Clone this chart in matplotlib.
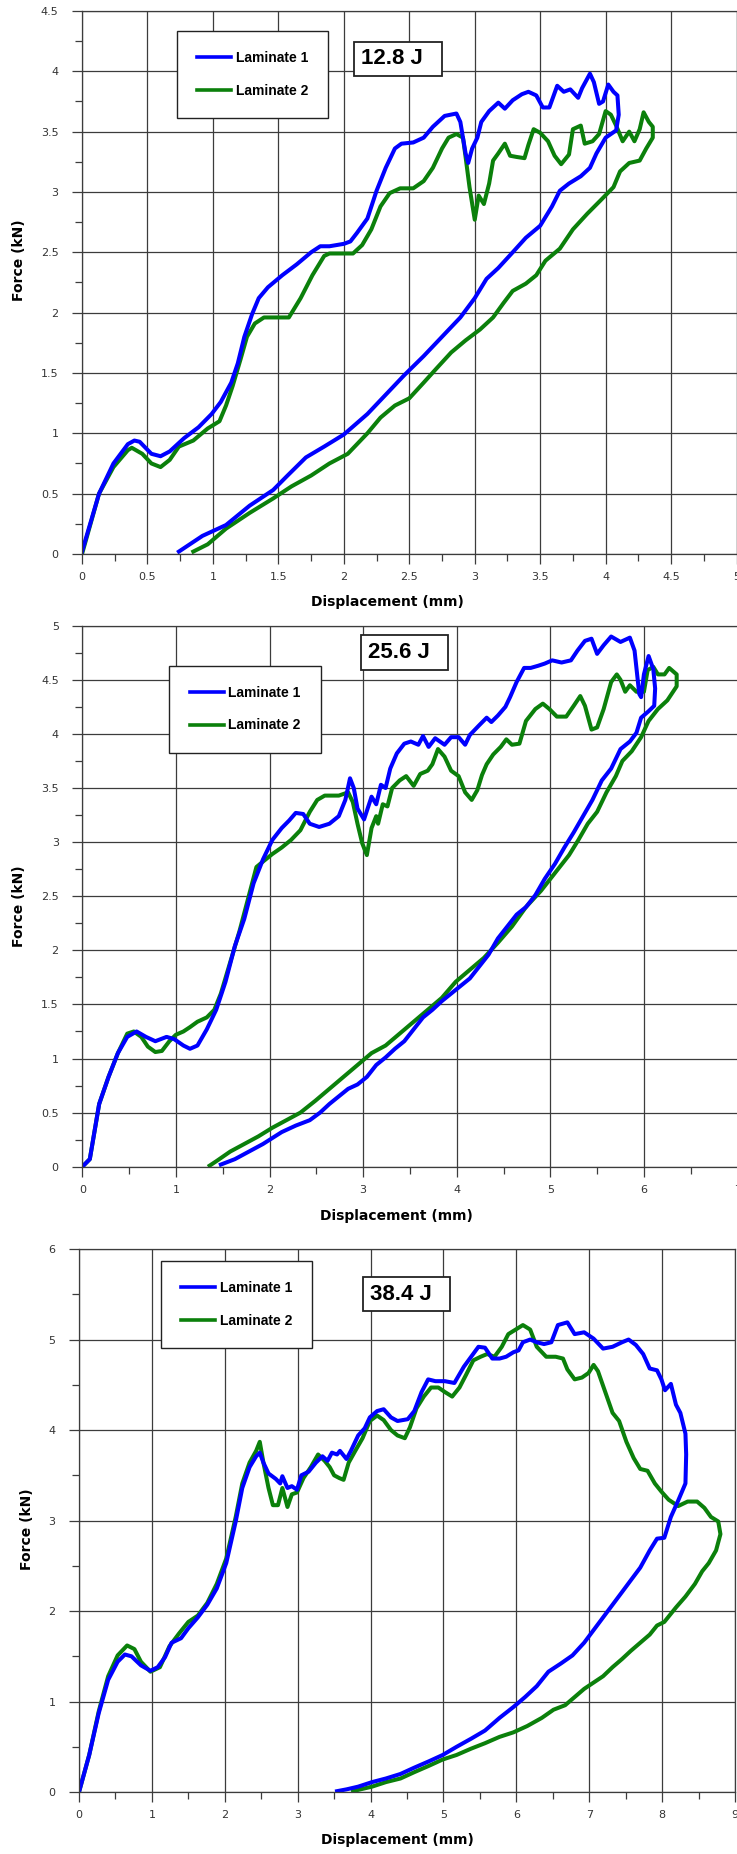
import matplotlib
matplotlib.use("Agg")
import matplotlib.pyplot as plt
from matplotlib.ticker import MultipleLocator, FuncFormatter

# ---- data ----
# 12.8 J
e12_lam1_x = [0.0, 0.13, 0.24, 0.35, 0.40, 0.44, 0.53, 0.60, 0.67, 0.78, 0.89, 0.99, 1.06, 1.14, 1.19, 1.24,
              1.30, 1.35, 1.42, 1.53, 1.64, 1.75, 1.82, 1.89, 2.00, 2.05, 2.10, 2.18, 2.25, 2.32, 2.39, 2.44,
              2.53, 2.61, 2.68, 2.77, 2.86, 2.89, 2.93, 2.95, 2.98, 3.02, 3.05, 3.11, 3.18, 3.23, 3.29, 3.36,
              3.41, 3.47, 3.52, 3.57, 3.63, 3.68, 3.73, 3.79, 3.82, 3.88, 3.91, 3.95, 3.98, 4.02, 4.06, 4.09,
              4.10, 4.08, 4.00, 3.93, 3.88, 3.81, 3.72, 3.65, 3.59, 3.50, 3.39, 3.29, 3.18, 3.09, 3.00, 2.89,
              2.75, 2.61, 2.46, 2.32, 2.18, 2.00, 1.85, 1.71, 1.57, 1.46, 1.28, 1.10, 0.92, 0.74]
e12_lam1_y = [0.02, 0.50, 0.75, 0.91, 0.94, 0.93, 0.83, 0.81, 0.85, 0.96, 1.05, 1.16, 1.26, 1.42, 1.58, 1.80,
              1.99, 2.12, 2.21, 2.31, 2.40, 2.50, 2.55, 2.55, 2.57, 2.59, 2.66, 2.78, 3.01, 3.20, 3.36, 3.40,
              3.41, 3.45, 3.54, 3.63, 3.65, 3.58, 3.32, 3.24, 3.36, 3.45, 3.58, 3.67, 3.74, 3.69, 3.76, 3.81,
              3.83, 3.80, 3.70, 3.70, 3.88, 3.83, 3.85, 3.78, 3.86, 3.98, 3.91, 3.73, 3.75, 3.89, 3.83, 3.80,
              3.64, 3.51, 3.45, 3.32, 3.20, 3.13, 3.07, 3.01, 2.88, 2.72, 2.62, 2.50, 2.37, 2.28, 2.12, 1.96,
              1.80, 1.64, 1.48, 1.32, 1.16, 0.99, 0.89, 0.80, 0.65, 0.53, 0.40, 0.24, 0.15, 0.02]
e12_lam2_x = [0.0, 0.13, 0.24, 0.35, 0.38, 0.46, 0.53, 0.60, 0.67, 0.74, 0.85, 0.96, 1.05, 1.10, 1.15, 1.21,
              1.26, 1.32, 1.39, 1.58, 1.67, 1.76, 1.85, 1.89, 2.07, 2.14, 2.21, 2.28, 2.35, 2.43, 2.53, 2.61,
              2.68, 2.75, 2.80, 2.86, 2.91, 2.93, 2.96, 3.00, 3.03, 3.07, 3.11, 3.14, 3.18, 3.23, 3.27, 3.32,
              3.38, 3.41, 3.45, 3.50, 3.56, 3.61, 3.66, 3.72, 3.75, 3.81, 3.84, 3.90, 3.95, 4.00, 4.04, 4.08,
              4.13, 4.18, 4.22, 4.26, 4.29, 4.33, 4.36, 4.36, 4.31, 4.26, 4.18, 4.11, 4.06, 3.97, 3.86, 3.75,
              3.65, 3.54, 3.47, 3.39, 3.29, 3.22, 3.14, 3.04, 2.93, 2.82, 2.71, 2.61, 2.50, 2.39, 2.28, 2.18,
              2.03, 1.89, 1.75, 1.60, 1.46, 1.28, 1.10, 0.96, 0.85]
e12_lam2_y = [0.0, 0.50, 0.72, 0.86, 0.88, 0.83, 0.75, 0.72, 0.78, 0.89, 0.94, 1.04, 1.10, 1.23, 1.39, 1.61,
              1.80, 1.91, 1.96, 1.96, 2.12, 2.31, 2.47, 2.49, 2.49, 2.56, 2.69, 2.88, 2.99, 3.03, 3.03, 3.09,
              3.20, 3.36, 3.45, 3.48, 3.45, 3.29, 3.04, 2.77, 2.97, 2.90, 3.07, 3.26, 3.32, 3.40, 3.30, 3.29,
              3.28, 3.39, 3.52, 3.49, 3.42, 3.30, 3.23, 3.31, 3.52, 3.55, 3.40, 3.42, 3.48, 3.67, 3.64, 3.55,
              3.42, 3.50, 3.42, 3.52, 3.66, 3.58, 3.54, 3.45, 3.36, 3.26, 3.24, 3.17, 3.04, 2.94, 2.82, 2.69,
              2.53, 2.43, 2.31, 2.24, 2.18, 2.08, 1.96, 1.86, 1.77, 1.67, 1.54, 1.42, 1.29, 1.23, 1.13, 1.00,
              0.83, 0.75, 0.65, 0.56, 0.46, 0.34, 0.21, 0.08, 0.02]

# 25.6 J
e25_lam1_x = [0.0, 0.08, 0.18, 0.28, 0.38, 0.48, 0.58, 0.68, 0.78, 0.90, 0.98, 1.08, 1.15, 1.23, 1.33, 1.43,
              1.53, 1.63, 1.73, 1.83, 1.93, 2.03, 2.13, 2.21, 2.28, 2.36, 2.43, 2.53, 2.64, 2.74, 2.81, 2.86,
              2.90, 2.94, 3.01, 3.09, 3.14, 3.19, 3.24, 3.29, 3.36, 3.44, 3.51, 3.59, 3.64, 3.70, 3.77, 3.87,
              3.94, 4.02, 4.09, 4.14, 4.24, 4.32, 4.37, 4.44, 4.52, 4.57, 4.64, 4.72, 4.79, 4.87, 4.94, 5.02,
              5.12, 5.22, 5.29, 5.37, 5.44, 5.50, 5.57, 5.65, 5.75, 5.85, 5.90, 5.95, 5.97, 6.00, 6.05, 6.10,
              6.12, 6.11, 6.05, 5.97, 5.92, 5.85, 5.75, 5.65, 5.55, 5.45, 5.35, 5.25, 5.15, 5.05, 4.94, 4.84,
              4.74, 4.64, 4.54, 4.44, 4.34, 4.24, 4.14, 4.04, 3.94, 3.84, 3.74, 3.64, 3.54, 3.44, 3.34, 3.24,
              3.14, 3.04, 2.94, 2.84, 2.74, 2.64, 2.54, 2.43, 2.28, 2.13, 1.93, 1.78, 1.63, 1.48]
e25_lam1_y = [0.0, 0.07, 0.58, 0.83, 1.05, 1.20, 1.25, 1.20, 1.16, 1.20, 1.18, 1.12, 1.09, 1.12, 1.27, 1.45,
              1.71, 2.04, 2.29, 2.62, 2.84, 3.02, 3.13, 3.20, 3.27, 3.26, 3.17, 3.14, 3.17, 3.24, 3.39, 3.59,
              3.50, 3.31, 3.21, 3.42, 3.35, 3.53, 3.50, 3.68, 3.82, 3.91, 3.93, 3.90, 3.98, 3.88, 3.96, 3.90,
              3.97, 3.97, 3.90, 3.99, 4.08, 4.15, 4.11, 4.17, 4.25, 4.34, 4.48, 4.61, 4.61, 4.63, 4.65, 4.68,
              4.66, 4.68, 4.77, 4.86, 4.88, 4.74, 4.82, 4.90, 4.85, 4.89, 4.77, 4.37, 4.34, 4.55, 4.72, 4.60,
              4.42, 4.26, 4.21, 4.15, 4.01, 3.93, 3.86, 3.68, 3.57, 3.39, 3.24, 3.09, 2.95, 2.80, 2.66, 2.51,
              2.40, 2.33, 2.22, 2.11, 1.96, 1.85, 1.74, 1.67, 1.60, 1.53, 1.45, 1.38, 1.27, 1.16, 1.09, 1.01,
              0.94, 0.83, 0.76, 0.72, 0.65, 0.58, 0.50, 0.43, 0.38, 0.32, 0.21, 0.14, 0.07, 0.02]
e25_lam2_x = [0.0, 0.08, 0.18, 0.28, 0.38, 0.48, 0.55, 0.63, 0.70, 0.78, 0.85, 0.93, 1.00, 1.08, 1.15, 1.23,
              1.33, 1.41, 1.48, 1.58, 1.68, 1.78, 1.86, 1.93, 2.03, 2.13, 2.23, 2.33, 2.43, 2.51, 2.59, 2.74,
              2.84, 2.89, 2.94, 2.99, 3.04, 3.09, 3.14, 3.16, 3.21, 3.26, 3.31, 3.39, 3.46, 3.54, 3.61, 3.69,
              3.74, 3.80, 3.87, 3.94, 4.02, 4.09, 4.16, 4.22, 4.27, 4.32, 4.39, 4.47, 4.53, 4.59, 4.67, 4.74,
              4.84, 4.92, 4.99, 5.07, 5.17, 5.25, 5.32, 5.37, 5.44, 5.50, 5.57, 5.65, 5.71, 5.75, 5.80, 5.85,
              5.92, 6.00, 6.04, 6.10, 6.15, 6.22, 6.27, 6.35, 6.35, 6.25, 6.15, 6.05, 5.97, 5.87, 5.77, 5.70,
              5.60, 5.50, 5.40, 5.30, 5.20, 5.10, 5.00, 4.90, 4.74, 4.59, 4.44, 4.29, 4.14, 3.99, 3.84, 3.69,
              3.54, 3.39, 3.24, 3.09, 2.94, 2.79, 2.64, 2.49, 2.33, 2.18, 2.03, 1.88, 1.73, 1.58, 1.43, 1.36]
e25_lam2_y = [0.0, 0.07, 0.58, 0.83, 1.05, 1.23, 1.25, 1.20, 1.11, 1.06, 1.07, 1.16, 1.22, 1.25, 1.29, 1.34,
              1.38, 1.45, 1.60, 1.89, 2.18, 2.51, 2.77, 2.82, 2.89, 2.95, 3.02, 3.11, 3.28, 3.39, 3.43, 3.43,
              3.46, 3.37, 3.17, 2.99, 2.88, 3.13, 3.24, 3.17, 3.35, 3.33, 3.50, 3.57, 3.61, 3.52, 3.63, 3.66,
              3.72, 3.86, 3.79, 3.66, 3.61, 3.46, 3.39, 3.48, 3.62, 3.72, 3.81, 3.88, 3.95, 3.90, 3.91, 4.12,
              4.23, 4.28, 4.23, 4.16, 4.16, 4.26, 4.35, 4.26, 4.04, 4.06, 4.23, 4.48, 4.55, 4.50, 4.39, 4.45,
              4.39, 4.39, 4.59, 4.62, 4.55, 4.55, 4.61, 4.55, 4.44, 4.31, 4.23, 4.12, 3.97, 3.84, 3.75, 3.61,
              3.46, 3.28, 3.17, 3.02, 2.88, 2.77, 2.66, 2.55, 2.40, 2.22, 2.07, 1.93, 1.82, 1.71, 1.56, 1.45,
              1.34, 1.23, 1.12, 1.05, 0.94, 0.83, 0.72, 0.61, 0.50, 0.43, 0.36, 0.28, 0.21, 0.14, 0.05, 0.01]

# 38.4 J
e38_lam1_x = [0.0, 0.14, 0.27, 0.40, 0.53, 0.63, 0.72, 0.85, 0.98, 1.08, 1.18, 1.27, 1.40, 1.50, 1.63, 1.76,
              1.89, 2.02, 2.15, 2.24, 2.34, 2.43, 2.48, 2.53, 2.60, 2.70, 2.76, 2.79, 2.86, 2.92, 2.99, 3.05,
              3.15, 3.25, 3.34, 3.41, 3.47, 3.54, 3.58, 3.67, 3.73, 3.83, 3.92, 3.99, 4.09, 4.18, 4.28, 4.37,
              4.51, 4.60, 4.70, 4.79, 4.89, 5.02, 5.15, 5.28, 5.38, 5.48, 5.57, 5.67, 5.77, 5.86, 5.96, 6.03,
              6.09, 6.19, 6.28, 6.38, 6.48, 6.57, 6.70, 6.80, 6.93, 7.06, 7.19, 7.32, 7.45, 7.54, 7.64, 7.74,
              7.83, 7.93, 7.99, 8.04, 8.12, 8.19, 8.25, 8.32, 8.33, 8.32, 8.22, 8.12, 8.03, 7.93, 7.83, 7.70,
              7.57, 7.45, 7.32, 7.19, 7.06, 6.93, 6.77, 6.61, 6.44, 6.28, 6.12, 5.96, 5.77, 5.57, 5.38, 5.18,
              4.99, 4.80, 4.60, 4.41, 4.21, 4.02, 3.83, 3.67, 3.54]
e38_lam1_y = [0.0, 0.41, 0.87, 1.24, 1.44, 1.52, 1.50, 1.40, 1.34, 1.38, 1.49, 1.65, 1.70, 1.81, 1.93, 2.07,
              2.25, 2.53, 2.99, 3.36, 3.59, 3.71, 3.75, 3.64, 3.52, 3.46, 3.41, 3.49, 3.36, 3.38, 3.34, 3.50,
              3.54, 3.64, 3.71, 3.66, 3.75, 3.73, 3.77, 3.68, 3.77, 3.94, 4.02, 4.14, 4.21, 4.23, 4.14, 4.10,
              4.12, 4.21, 4.42, 4.56, 4.54, 4.54, 4.52, 4.70, 4.81, 4.92, 4.91, 4.79, 4.79, 4.81, 4.86, 4.88,
              4.97, 5.00, 4.97, 4.95, 4.97, 5.16, 5.19, 5.06, 5.08, 5.01, 4.90, 4.92, 4.97, 5.00, 4.94, 4.84,
              4.68, 4.66, 4.56, 4.44, 4.51, 4.28, 4.19, 3.96, 3.73, 3.41, 3.22, 3.04, 2.81, 2.80, 2.67, 2.48,
              2.34, 2.21, 2.07, 1.93, 1.79, 1.65, 1.51, 1.42, 1.33, 1.17, 1.05, 0.94, 0.82, 0.68, 0.59, 0.50,
              0.41, 0.34, 0.27, 0.20, 0.15, 0.11, 0.06, 0.03, 0.01]
e38_lam2_x = [0.0, 0.14, 0.27, 0.40, 0.53, 0.66, 0.76, 0.85, 0.98, 1.11, 1.24, 1.37, 1.50, 1.63, 1.76, 1.89,
              2.02, 2.15, 2.24, 2.34, 2.43, 2.48, 2.53, 2.60, 2.66, 2.73, 2.79, 2.86, 2.92, 2.99, 3.08, 3.18,
              3.28, 3.37, 3.44, 3.50, 3.57, 3.63, 3.70, 3.79, 3.89, 3.99, 4.09, 4.18, 4.28, 4.37, 4.47, 4.54,
              4.63, 4.73, 4.83, 4.93, 5.02, 5.12, 5.22, 5.31, 5.41, 5.51, 5.60, 5.70, 5.80, 5.89, 5.99, 6.09,
              6.19, 6.28, 6.41, 6.54, 6.64, 6.70, 6.80, 6.90, 6.99, 7.06, 7.12, 7.22, 7.32, 7.41, 7.51, 7.61,
              7.70, 7.80, 7.90, 7.99, 8.09, 8.22, 8.35, 8.48, 8.58, 8.67, 8.77, 8.80, 8.74, 8.64, 8.55, 8.45,
              8.32, 8.19, 8.03, 7.93, 7.83, 7.70, 7.57, 7.45, 7.32, 7.19, 7.06, 6.93, 6.80, 6.67, 6.51, 6.35,
              6.15, 5.96, 5.77, 5.57, 5.38, 5.18, 4.99, 4.80, 4.60, 4.41, 4.21, 4.02, 3.86, 3.76]
e38_lam2_y = [0.0, 0.41, 0.89, 1.28, 1.51, 1.62, 1.58, 1.44, 1.33, 1.38, 1.61, 1.75, 1.88, 1.95, 2.09, 2.30,
              2.58, 3.04, 3.41, 3.64, 3.77, 3.87, 3.64, 3.36, 3.17, 3.17, 3.36, 3.15, 3.29, 3.31, 3.47, 3.59,
              3.73, 3.66, 3.59, 3.50, 3.47, 3.45, 3.64, 3.77, 3.91, 4.10, 4.16, 4.11, 4.00, 3.94, 3.91, 4.03,
              4.24, 4.37, 4.47, 4.47, 4.42, 4.37, 4.47, 4.61, 4.77, 4.81, 4.84, 4.81, 4.92, 5.06, 5.11, 5.16,
              5.11, 4.92, 4.81, 4.81, 4.79, 4.67, 4.56, 4.58, 4.63, 4.72, 4.65, 4.42, 4.19, 4.10, 3.87, 3.69,
              3.57, 3.55, 3.41, 3.32, 3.23, 3.16, 3.21, 3.21, 3.14, 3.04, 2.99, 2.85, 2.67, 2.53, 2.44, 2.30,
              2.16, 2.04, 1.88, 1.84, 1.74, 1.65, 1.56, 1.47, 1.38, 1.28, 1.21, 1.14, 1.05, 0.96, 0.91, 0.82,
              0.73, 0.66, 0.61, 0.54, 0.48, 0.41, 0.36, 0.29, 0.22, 0.15, 0.11, 0.06, 0.03, 0.01]

series_labels = ["Laminate 1", "Laminate 2"]
energy_labels = ["12.8 J", "25.6 J", "38.4 J"]

BLUE = "#0000ff"
GREEN = "#0b800b"
GRID = "#3c3c3c"
fmt = FuncFormatter(lambda v, p: "%g" % v)


def draw_panel(ax, lam1, lam2, xmax, xstep, xminor, ymax, ystep, yminor,
               energy, leg_xy, tag_xy, ylab_pos, xlab_pos):
    ax.set_xlim(0, xmax)
    ax.set_ylim(0, ymax)
    ax.xaxis.set_major_locator(MultipleLocator(xstep))
    ax.xaxis.set_minor_locator(MultipleLocator(xminor))
    ax.yaxis.set_major_locator(MultipleLocator(ystep))
    ax.yaxis.set_minor_locator(MultipleLocator(yminor))
    ax.xaxis.set_major_formatter(fmt)
    ax.yaxis.set_major_formatter(fmt)
    ax.grid(True, which="major", color=GRID, lw=0.9)
    ax.set_axisbelow(True)
    for s in ax.spines.values():
        s.set_color(GRID)
        s.set_linewidth(0.9)
    ax.tick_params(which="major", length=7, width=0.9, color=GRID,
                   labelsize=8, labelcolor="#333333")
    ax.tick_params(which="minor", length=5, width=0.9, color=GRID)
    ax.tick_params(axis="y", which="major", pad=10)
    ax.tick_params(axis="x", which="major", pad=6)

    l2, = ax.plot(lam2[0], lam2[1], color=GREEN, lw=2.9, solid_joinstyle="round",
                  label=series_labels[1])
    l1, = ax.plot(lam1[0], lam1[1], color=BLUE, lw=2.9, solid_joinstyle="round",
                  label=series_labels[0])

    leg = ax.legend([l1, l2], series_labels, loc="center", bbox_to_anchor=leg_xy,
                    bbox_transform=ax.transAxes, frameon=True, fancybox=False,
                    edgecolor="#222222", framealpha=1, borderpad=1.45,
                    labelspacing=1.35, handlelength=2.5, handletextpad=0.3,
                    borderaxespad=0,
                    prop={"family": "Liberation Sans", "weight": "bold", "size": 10})
    leg.get_frame().set_linewidth(1.0)
    for h in leg.get_lines():
        h.set_linewidth(2.6)

    # energy tag: text sits left of centre in its box, as in the source figure
    ax.text(tag_xy[0], tag_xy[1], energy + "  ", transform=ax.transAxes,
            ha="center", va="center", family="Liberation Sans", weight="bold",
            fontsize=16, zorder=6,
            bbox=dict(boxstyle="square,pad=0.3", fc="white", ec="#222222", lw=1.3))

    ax.set_xlabel("Displacement (mm)", fontsize=10, fontweight="bold")
    ax.set_ylabel("Force (kN)", fontsize=10, fontweight="bold")
    ax.xaxis.set_label_coords(*xlab_pos)
    ax.yaxis.set_label_coords(*ylab_pos)
    ax.xaxis.label.set_va("center")
    ax.yaxis.label.set_va("center")


fig = plt.figure(figsize=(7.37, 18.54), dpi=100)

ax1 = fig.add_axes([0.1113, 0.7012, 0.8881, 0.2929])
draw_panel(ax1, (e12_lam1_x, e12_lam1_y), (e12_lam2_x, e12_lam2_y),
           5, 0.5, 0.25, 4.5, 0.5, 0.25, energy_labels[0],
           leg_xy=(0.2602, 0.883), tag_xy=(0.4828, 0.912),
           ylab_pos=(-0.096, 0.541), xlab_pos=(0.467, -0.088))

ax2 = fig.add_axes([0.1117, 0.3707, 0.8890, 0.2918])
draw_panel(ax2, (e25_lam1_x, e25_lam1_y), (e25_lam2_x, e25_lam2_y),
           7, 1, 0.5, 5, 0.5, 0.25, energy_labels[1],
           leg_xy=(0.2486, 0.846), tag_xy=(0.492, 0.9505),
           ylab_pos=(-0.096, 0.482), xlab_pos=(0.48, -0.091))

ax3 = fig.add_axes([0.1072, 0.0334, 0.8901, 0.2929])
draw_panel(ax3, (e38_lam1_x, e38_lam1_y), (e38_lam2_x, e38_lam2_y),
           9, 1, 0.5, 6, 1, 0.5, energy_labels[2],
           leg_xy=(0.2398, 0.898), tag_xy=(0.4995, 0.9166),
           ylab_pos=(-0.079, 0.484), xlab_pos=(0.486, -0.088))

fig.savefig("out.png", dpi=100)
